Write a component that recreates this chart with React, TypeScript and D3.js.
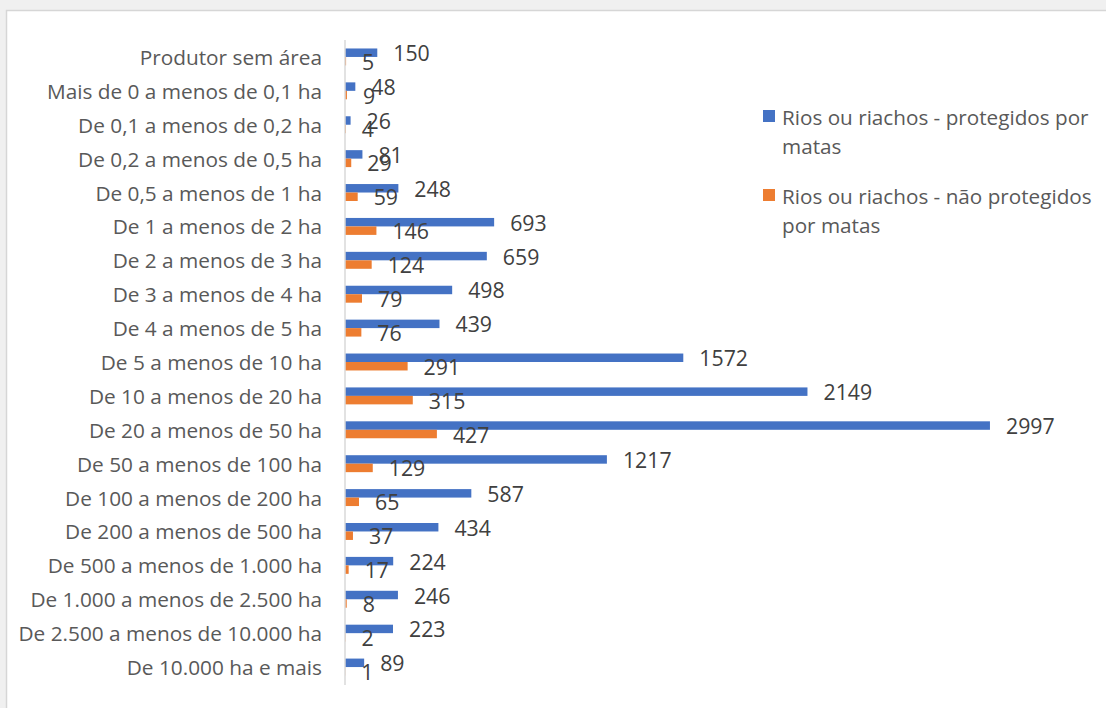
import React from 'react'
import * as d3 from 'd3'

const categories = [
    'Produtor sem área',
    'Mais de 0 a menos de 0,1 ha',
    'De 0,1 a menos de 0,2 ha',
    'De 0,2 a menos de 0,5 ha',
    'De 0,5 a menos de 1 ha',
    'De 1 a menos de 2 ha',
    'De 2 a menos de 3 ha',
    'De 3 a menos de 4 ha',
    'De 4 a menos de 5 ha',
    'De 5 a menos de 10 ha',
    'De 10 a menos de 20 ha',
    'De 20 a menos de 50 ha',
    'De 50 a menos de 100 ha',
    'De 100 a menos de 200 ha',
    'De 200 a menos de 500 ha',
    'De 500 a menos de 1.000 ha',
    'De 1.000 a menos de 2.500 ha',
    'De 2.500 a menos de 10.000 ha',
    'De 10.000 ha e mais',
]

const protegidos = [150, 48, 26, 81, 248, 693, 659, 498, 439, 1572, 2149, 2997, 1217, 587, 434, 224, 246, 223, 89]
const naoProtegidos = [5, 9, 4, 29, 59, 146, 124, 79, 76, 291, 315, 427, 129, 65, 37, 17, 8, 2, 1]

const seriesNames = ['Rios ou riachos - protegidos por matas', 'Rios ou riachos - não protegidos por matas']
const seriesColors = ['#4472c4', '#ed7d31']
// legend text is wrapped in two lines like in the original
const legendLines = [
    ['Rios ou riachos - protegidos por', 'matas'],
    ['Rios ou riachos - não protegidos', 'por matas'],
]

const W = 1106
const H = 708
const FONT = '"Open Sans", "Noto Sans", sans-serif'

export default function App() {
    const x = d3.scaleLinear().domain([0, 3000]).range([345, 990.6])
    const y = d3.scaleBand<string>()
        .domain(categories)
        .range([40, 684])
        .paddingInner(0.5)
        .paddingOuter(0.25)
    const inner = d3.scaleBand<string>()
        .domain(seriesNames)
        .range([0, y.bandwidth()])

    const series = [protegidos, naoProtegidos]

    return (
        <svg width={W} height={H} style={{position: 'absolute', left: 0, top: 0}} fontFamily={FONT}>
            <rect x={0} y={0} width={W} height={H} fill="#f0f0f0"/>
            <rect x={6.5} y={10.5} width={W} height={H} fill="#ffffff" stroke="#d6d6d6" strokeWidth={1.5}/>

            {/* category labels */}
            {categories.map((c) => (
                <text key={c} x={322} y={y(c)! + y.bandwidth() / 2} textAnchor="end"
                      dominantBaseline="central" fontSize={20.8} fill="#595959">{c}</text>
            ))}

            {/* bars */}
            {series.map((vals, si) => (
                <g key={si}>
                    {vals.map((v, i) => {
                        const yy = y(categories[i])! + inner(seriesNames[si])!
                        return (
                            <rect key={i} x={x(0)} y={yy} width={x(v) - x(0)}
                                  height={inner.bandwidth()} fill={seriesColors[si]}/>
                        )
                    })}
                </g>
            ))}

            {/* axis line */}
            <line x1={x(0)} x2={x(0)} y1={40} y2={685} stroke="#d9d9d9" strokeWidth={1.5}/>

            {/* value labels */}
            {series.map((vals, si) => (
                <g key={'l' + si}>
                    {vals.map((v, i) => {
                        const yy = y(categories[i])! + inner(seriesNames[si])! + inner.bandwidth() / 2
                        return (
                            <text key={i} x={x(v) + 16} y={yy} dominantBaseline="central"
                                  fontSize={21.3} fill="#404040">{v}</text>
                        )
                    })}
                </g>
            ))}

            {/* legend */}
            {legendLines.map((lines, li) => {
                const top = li === 0 ? 110 : 189
                return (
                    <g key={li}>
                        <rect x={763} y={top} width={12} height={12} fill={seriesColors[li]}/>
                        {lines.map((t, k) => (
                            <text key={k} x={782} y={top + 7 + k * 29} dominantBaseline="central"
                                  fontSize={20.7} fill="#595959">{t}</text>
                        ))}
                    </g>
                )
            })}
        </svg>
    )
}
